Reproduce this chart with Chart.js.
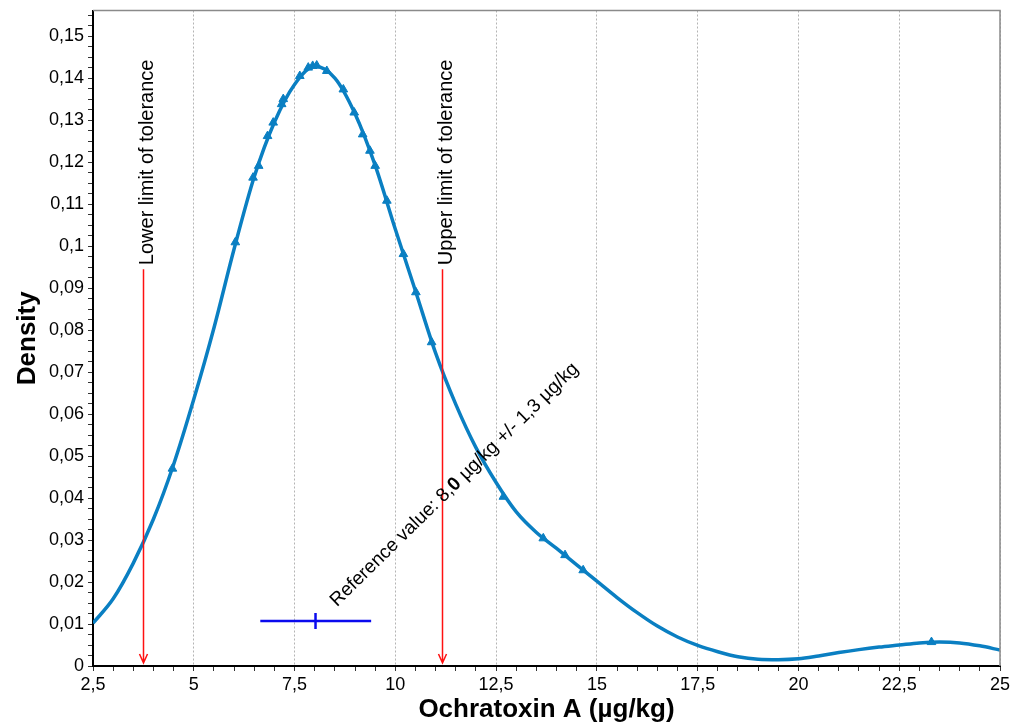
<!DOCTYPE html>
<html>
<head>
<meta charset="utf-8">
<script src="https://cdn.jsdelivr.net/npm/chart.js@4/dist/chart.umd.min.js"></script>
<style>
html, body { margin: 0; padding: 0; background: #fff; }
</style>
</head>
<body>
<canvas id="densityChart" width="1014" height="726"></canvas>
<script>
// Density curve
var curveX = [2.5, 3.0, 3.5, 4.0, 4.5, 5.0, 5.5, 6.0, 6.5, 7.0, 7.5, 8.0, 8.5, 9.0, 9.5, 10.0,
              10.5, 11.0, 11.5, 12.0, 12.5, 13.0, 13.5, 14.0, 14.5, 15.0, 15.5, 16.0, 16.5, 17.0,
              17.5, 18.0, 18.5, 19.0, 19.5, 20.0, 20.5, 21.0, 21.5, 22.0, 22.5, 23.0, 23.5, 24.0,
              24.5, 25.0];
var curveY = [0.0102, 0.0160, 0.0245, 0.0350, 0.0480, 0.0635, 0.0805, 0.0993, 0.1165, 0.1295,
              0.1385, 0.1428, 0.1400, 0.1315, 0.1192, 0.1040, 0.0893, 0.0745, 0.0623, 0.0520,
              0.0437, 0.0367, 0.0318, 0.0280, 0.0241, 0.0202, 0.0163, 0.0127, 0.0095, 0.0069,
              0.0049, 0.0034, 0.0022, 0.0016, 0.0015, 0.0017, 0.0024, 0.0032, 0.0039, 0.0045,
              0.0050, 0.0055, 0.0057, 0.0055, 0.0048, 0.0038];

// Triangle markers (participant results)
var markerX = [4.47, 6.03, 6.47, 6.61, 6.83, 6.97, 7.18, 7.22, 7.63, 7.84, 7.95, 8.05, 8.30,
               8.71, 8.98, 9.19, 9.37, 9.50, 9.79, 10.20, 10.51, 10.90, 12.68, 13.67, 14.21,
               14.66, 23.30];
var markerY = [0.0470, 0.1009, 0.1163, 0.1191, 0.1262, 0.1294, 0.1338, 0.1350, 0.1405, 0.1425,
               0.1429, 0.1430, 0.1417, 0.1373, 0.1318, 0.1266, 0.1227, 0.1191, 0.1108, 0.0981,
               0.0890, 0.0771, 0.0403, 0.0304, 0.0264, 0.0228, 0.0057];

// Tolerance limits and reference value
var toleranceLimits = [3.75, 11.15];
var toleranceLabels = ['Lower limit of tolerance', 'Upper limit of tolerance'];
var arrowTopY = 0.0945;
var refValue = 8.02;
var refRange = [6.65, 9.40];
var refBarY = 0.0107;
var refLabelAt = [8.55, 0.0140];

var FONT = '"Liberation Sans", Arial, sans-serif';
var curveColor = '#0a7fc2';
var barColor = '#0a0aee';

function isStep(v, step) {
    var r = v / step;
    return Math.abs(r - Math.round(r)) < 1e-6;
}
function fmt(v) {
    return String(+v.toFixed(3)).replace('.', ',');
}

var annotationPlugin = {
    id: 'annotations',
    afterDatasetsDraw: function (chart) {
        var ctx = chart.ctx, xs = chart.scales.x, ys = chart.scales.y, area = chart.chartArea;
        ctx.save();

        // grey frame top / right
        ctx.strokeStyle = '#8a8a8a';
        ctx.lineWidth = 1.5;
        ctx.beginPath();
        ctx.moveTo(area.left, area.top);
        ctx.lineTo(area.right, area.top);
        ctx.lineTo(area.right, area.bottom);
        ctx.stroke();

        // tolerance arrows + labels
        toleranceLimits.forEach(function (v, i) {
            var px = Math.round(xs.getPixelForValue(v)) + 0.5;
            var top = ys.getPixelForValue(arrowTopY);
            var bot = ys.getPixelForValue(0) - 3;
            ctx.strokeStyle = '#ff1010';
            ctx.lineWidth = 1.5;
            ctx.beginPath();
            ctx.moveTo(px, top);
            ctx.lineTo(px, bot);
            ctx.moveTo(px - 4, bot - 9);
            ctx.lineTo(px, bot);
            ctx.lineTo(px + 4, bot - 9);
            ctx.stroke();

            ctx.save();
            ctx.translate(px + 4, top - 4);
            ctx.rotate(-Math.PI / 2);
            ctx.fillStyle = '#000';
            ctx.font = '20px ' + FONT;
            ctx.textAlign = 'left';
            ctx.textBaseline = 'middle';
            ctx.fillText(toleranceLabels[i], 0, 0);
            ctx.restore();
        });

        // rotated reference value label, "0" in bold
        var parts = [
            ['Reference value: 8,', 'normal'],
            ['0', 'bold'],
            [' \u00b5g/kg +/- 1,3 \u00b5g/kg', 'normal']
        ];
        ctx.save();
        ctx.translate(xs.getPixelForValue(refLabelAt[0]), ys.getPixelForValue(refLabelAt[1]));
        ctx.rotate(-44.4 * Math.PI / 180);
        ctx.fillStyle = '#000';
        ctx.textBaseline = 'alphabetic';
        ctx.textAlign = 'left';
        var off = 0;
        parts.forEach(function (p) {
            ctx.font = p[1] + ' 19px ' + FONT;
            ctx.fillText(p[0], off, 0);
            off += ctx.measureText(p[0]).width;
        });
        ctx.restore();

        ctx.restore();
    }
};

var curvePts = curveX.map(function (x, i) { return { x: x, y: curveY[i] }; });
var markerPts = markerX.map(function (x, i) { return { x: x, y: markerY[i] }; });
var refBarPts = refRange.map(function (x) { return { x: x, y: refBarY }; });

new Chart(document.getElementById('densityChart').getContext('2d'), {
    type: 'line',
    data: {
        datasets: [{
            label: 'Density',
            data: curvePts,
            borderColor: curveColor,
            borderWidth: 3.5,
            pointRadius: 0,
            cubicInterpolationMode: 'monotone'
        }, {
            type: 'scatter',
            label: 'Results',
            data: markerPts,
            pointStyle: 'triangle',
            pointRadius: 5,
            backgroundColor: curveColor,
            borderColor: curveColor,
            borderWidth: 1
        }, {
            label: 'Reference range',
            data: refBarPts,
            borderColor: barColor,
            borderWidth: 2.5,
            pointRadius: 0
        }, {
            type: 'scatter',
            label: 'Reference value',
            data: [{ x: refValue, y: refBarY }],
            pointStyle: 'line',
            rotation: 90,
            pointRadius: 8,
            borderColor: barColor,
            borderWidth: 2.5
        }]
    },
    options: {
        responsive: false,
        animation: false,
        layout: { padding: { left: 0, right: 14, top: 5, bottom: 0 } },
        plugins: { legend: { display: false }, tooltip: { enabled: false } },
        scales: {
            x: {
                type: 'linear',
                min: 2.5,
                max: 25,
                ticks: {
                    stepSize: 0.5,
                    autoSkip: false,
                    maxRotation: 0,
                    color: '#000',
                    padding: 3,
                    font: { family: FONT, size: 18 },
                    callback: function (v) { return isStep(v, 2.5) ? fmt(v) : ''; }
                },
                grid: {
                    color: function (c) { return c.tick && isStep(c.tick.value, 2.5) ? '#b4b4b4' : 'rgba(0,0,0,0)'; },
                    tickColor: '#333',
                    tickLength: 5,
                    lineWidth: 1
                },
                border: { color: '#000', width: 2, dash: [2, 2] },
                title: {
                    display: true,
                    text: 'Ochratoxin A (\u00b5g/kg)',
                    color: '#000',
                    font: { family: FONT, size: 26, weight: 'bold' },
                    padding: { top: 0, bottom: 1 }
                },
                afterFit: function (s) { s.height = 60; s.paddingLeft = 0; s.paddingRight = 0; }
            },
            y: {
                min: 0,
                max: 0.1561,
                ticks: {
                    stepSize: 0.0025,
                    autoSkip: false,
                    includeBounds: false,
                    color: '#000',
                    padding: 4,
                    font: { family: FONT, size: 18 },
                    callback: function (v) { return isStep(v, 0.01) ? fmt(v) : ''; }
                },
                grid: {
                    color: 'rgba(0,0,0,0)',
                    tickColor: function (c) { return c.tick && isStep(c.tick.value, 0.0025) ? '#333' : 'rgba(0,0,0,0)'; },
                    tickLength: 5
                },
                border: { color: '#000', width: 2 },
                title: {
                    display: true,
                    text: 'Density',
                    color: '#000',
                    font: { family: FONT, size: 26, weight: 'bold' },
                    padding: { top: 12, bottom: 0 }
                },
                afterFit: function (s) { s.width = 93; s.paddingTop = 0; s.paddingBottom = 0; }
            }
        }
    },
    plugins: [annotationPlugin]
});
</script>
</body>
</html>
